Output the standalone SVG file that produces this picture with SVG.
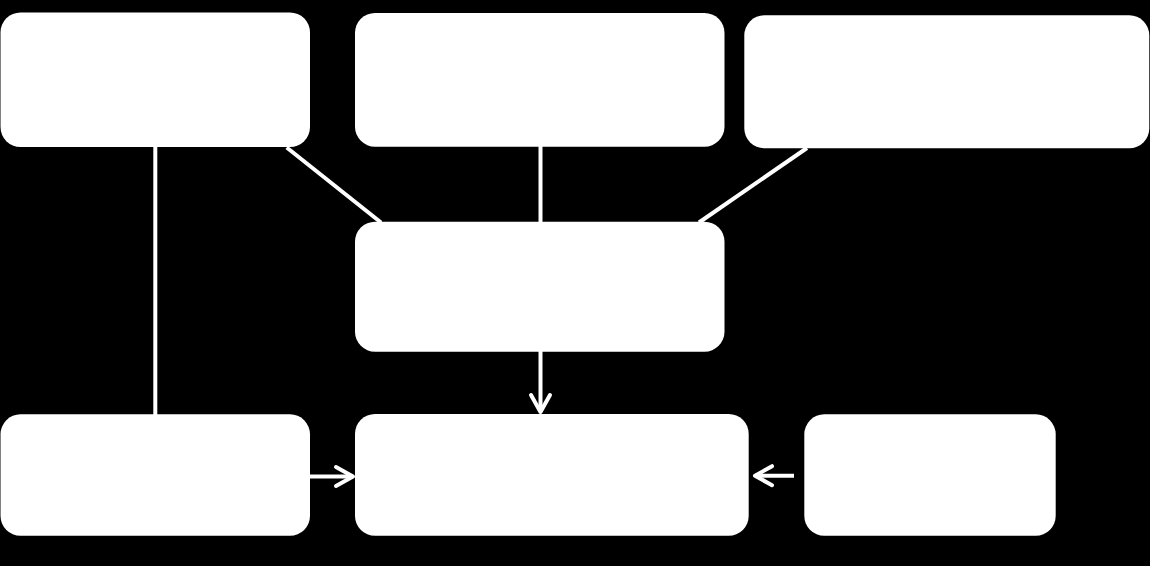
<svg xmlns="http://www.w3.org/2000/svg" width="1150" height="566" viewBox="0 0 1150 566">
<style>
.box{fill:#ffffff;}
.ln{stroke:#ffffff;stroke-width:4;fill:none;}
.ar{stroke:#ffffff;stroke-width:4;fill:none;stroke-linecap:round;stroke-linejoin:round;}
</style>
<defs>
<marker id="arrow" markerUnits="userSpaceOnUse" viewBox="-22 -14 26 28" markerWidth="26" markerHeight="28" refX="0" refY="0" orient="auto" overflow="visible">
<path class="ar" d="M-17,-9.5 L0,0 L-17,9.5"/>
</marker>
</defs>
<rect width="1150" height="566" fill="#000000"/>
<g id="connectors">
<line class="ln" x1="155.3" y1="146" x2="155.3" y2="415"/>
<line class="ln" x1="286.7" y1="147.5" x2="381" y2="222.5"/>
<line class="ln" x1="540.5" y1="146" x2="540.5" y2="223"/>
<line class="ln" x1="807" y1="148" x2="699" y2="222.5"/>
<line class="ln" x1="540.5" y1="351" x2="540.5" y2="412" marker-end="url(#arrow)"/>
<line class="ln" x1="309" y1="476.5" x2="353" y2="476.5" marker-end="url(#arrow)"/>
<line class="ln" x1="794" y1="475.7" x2="755" y2="475.7" marker-end="url(#arrow)"/>
</g>
<g id="node-top-left"><rect class="box" x="0.5" y="12.5" width="309.5" height="134.5" rx="20"/></g>
<g id="node-top-middle"><rect class="box" x="355" y="13" width="369.5" height="133.7" rx="20"/></g>
<g id="node-top-right"><rect class="box" x="744.3" y="15.3" width="405" height="133" rx="20"/></g>
<g id="node-middle"><rect class="box" x="355" y="221.7" width="369.5" height="130" rx="20"/></g>
<g id="node-bottom-left"><rect class="box" x="0.5" y="414.3" width="309.5" height="121.5" rx="20"/></g>
<g id="node-bottom-middle"><rect class="box" x="355" y="414" width="393.7" height="121.8" rx="20"/></g>
<g id="node-bottom-right"><rect class="box" x="804.3" y="414.3" width="251.4" height="121.5" rx="20"/></g>
</svg>
